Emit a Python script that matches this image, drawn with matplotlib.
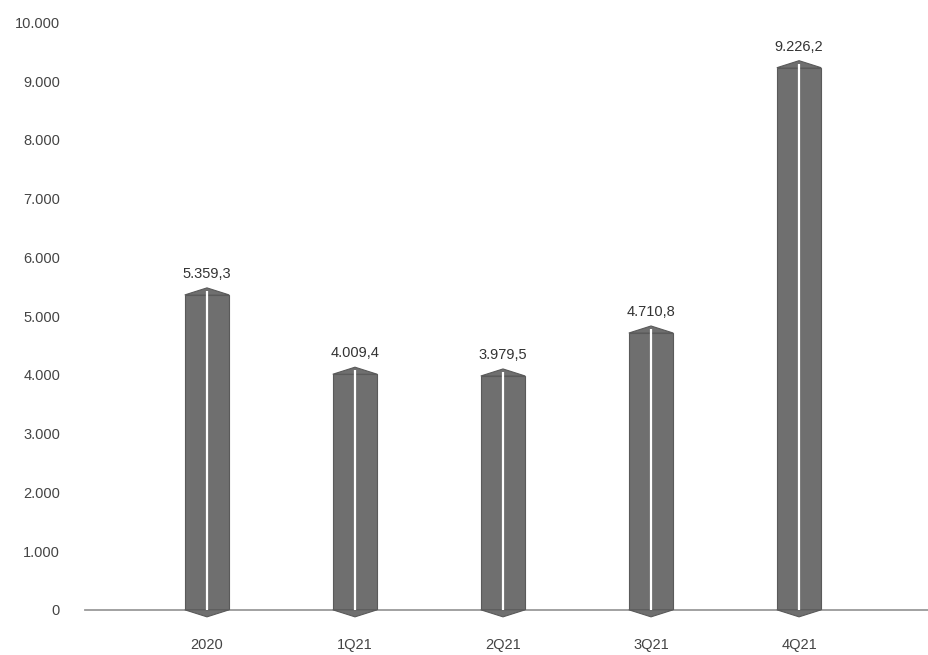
import matplotlib.pyplot as plt

plt.rcParams['font.family'] = ['Liberation Sans Narrow', 'Liberation Sans', 'DejaVu Sans']

periodos = ['2020', '1Q21', '2Q21', '3Q21', '4Q21']
valores = [5359.3, 4009.4, 3979.5, 4710.8, 9226.2]
yticks = [0, 1000, 2000, 3000, 4000, 5000, 6000, 7000, 8000, 9000, 10000]


def fmt_mil(v):
    return f'{v:,.0f}'.replace(',', '.')


def fmt_val(v):
    s = f'{v:,.1f}'
    return s.replace(',', 'X').replace('.', ',').replace('X', '.')


fig = plt.figure(figsize=(9.29, 6.55), dpi=100)
ax = fig.add_axes([0.0915, 0.069, 0.9085, 0.897])

x = list(range(len(periodos)))
largura = 0.30
cor = '#6f6f6f'
ponta = 120

ax.bar(x, valores, width=largura, color=cor, edgecolor='#5a5a5a', linewidth=0.8, zorder=2)

# pontas em chevron no topo e na base de cada barra
for xi, v in zip(x, valores):
    ax.fill([xi - largura / 2, xi, xi + largura / 2], [v, v + ponta, v],
            color=cor, edgecolor='#5a5a5a', linewidth=0.8, zorder=2, clip_on=False)
    ax.fill([xi - largura / 2, xi, xi + largura / 2], [0, -ponta, 0],
            color=cor, edgecolor='#5a5a5a', linewidth=0.8, zorder=2, clip_on=False)
    ax.vlines(xi, -ponta, v + ponta * 0.6, color='white', linewidth=1.6, zorder=3)
    ax.annotate(fmt_val(v), (xi, v + ponta), xytext=(0, 5), textcoords='offset points',
                ha='center', va='bottom', fontsize=10.5, color='#333333')

ax.set_xlim(-0.824, 4.878)
ax.set_ylim(0, 10000)
ax.set_xticks(x)
ax.set_xticklabels(periodos)
ax.set_yticks(yticks)
ax.set_yticklabels([fmt_mil(t) for t in yticks])
ax.tick_params(axis='both', length=0, labelsize=10.5, colors='#444444')
ax.tick_params(axis='y', pad=18)
ax.tick_params(axis='x', pad=20)

for lado in ['top', 'right', 'left']:
    ax.spines[lado].set_visible(False)
ax.spines['bottom'].set_color('#9a9a9a')
ax.spines['bottom'].set_linewidth(1.3)
ax.spines['bottom'].set_zorder(1)

fig.savefig('out.png', dpi=100)
